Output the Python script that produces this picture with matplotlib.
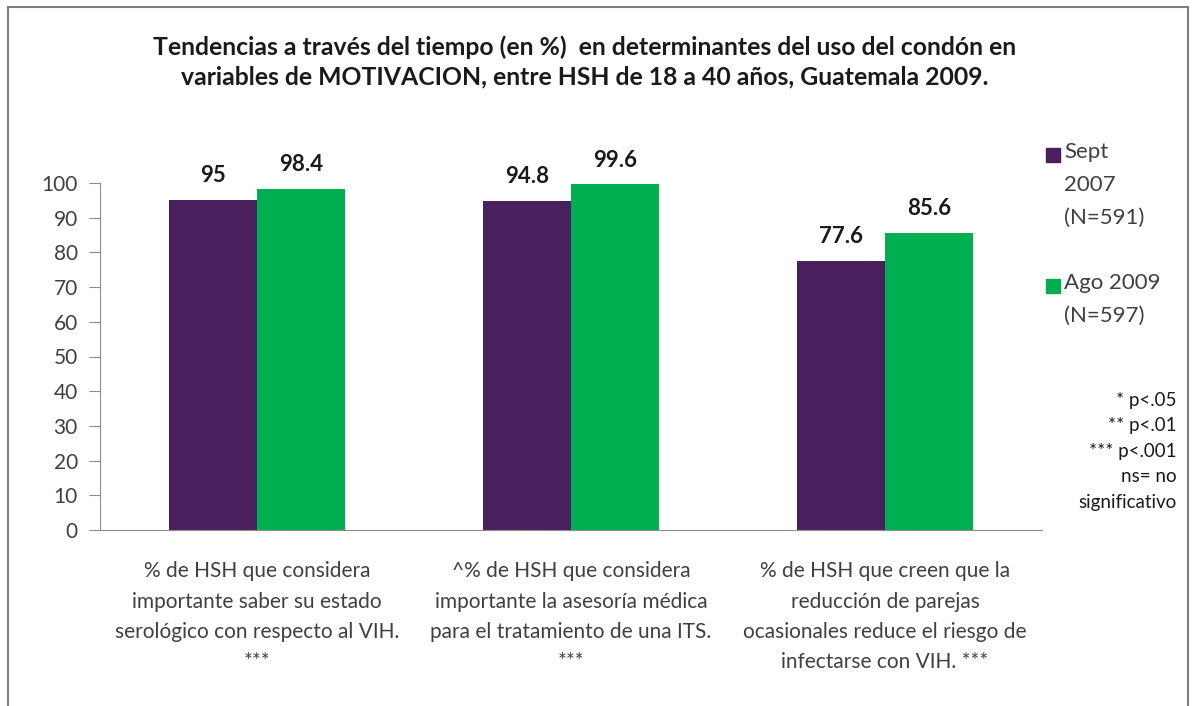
import matplotlib.pyplot as plt
import matplotlib.patches as mpatches
import numpy as np

plt.rcParams['font.family'] = ['Lato', 'DejaVu Sans']

# Datos
categorias = ["% de HSH que considera\nimportante saber su estado\nserológico con respecto al VIH.\n***",
              "^% de HSH que considera\nimportante la asesoría médica\npara el tratamiento de una ITS.\n***",
              "% de HSH que creen que la\nreducción de parejas\nocasionales reduce el riesgo de\ninfectarse con VIH. ***"]
sept_2007 = [95, 94.8, 77.6]
ago_2009 = [98.4, 99.6, 85.6]
series = ["Sept\n2007\n(N=591)", "Ago 2009\n(N=597)"]
notas = ["* p<.05", "** p<.01", "*** p<.001", "ns= no", "significativo"]

morado = '#4a1f5e'
verde = '#00b050'
gris_txt = '#404040'

fig = plt.figure(figsize=(11.95, 7.06), dpi=100)
ax = fig.add_axes([100/1195, 1 - 530/706, 942/1195, 347/706])

x = np.arange(len(categorias))
w = 0.28
b1 = ax.bar(x - w/2, sept_2007, w, color=morado)
b2 = ax.bar(x + w/2, ago_2009, w, color=verde)

for bars, vals in [(b1, sept_2007), (b2, ago_2009)]:
    for b, v in zip(bars, vals):
        ax.text(b.get_x() + b.get_width()/2, v + 4, f"{v:g}", ha='center', va='bottom',
                fontsize=16, fontweight='bold', color='#1a1a1a')

ax.set_xlim(-0.5, 2.5)
ax.set_ylim(0, 100)
ax.set_yticks(range(0, 101, 10))
ax.tick_params(axis='y', direction='out', length=8, color='#8c8c8c', labelsize=15,
               labelcolor=gris_txt, pad=8)
ax.set_xticks([])
for s in ['top', 'right']:
    ax.spines[s].set_visible(False)
ax.spines['left'].set_color('#8c8c8c')
ax.spines['bottom'].set_color('#8c8c8c')

for xi, cat in zip(x, categorias):
    ax.text(xi, -9, cat, ha='center', va='top', fontsize=15, color=gris_txt,
            linespacing=1.65, transform=ax.transData)

fig.text(585/1195, 1 - 62/706,
         "Tendencias a través del tiempo (en %)  en determinantes del uso del condón en\n"
         "variables de MOTIVACION, entre HSH de 18 a 40 años, Guatemala 2009.",
         ha='center', va='center', fontsize=17.8, fontweight='bold', color='#1a1a1a',
         linespacing=1.3)

# Leyenda
fig.patches.append(mpatches.Rectangle((1046/1195, 1 - 162/706), 14/1195, 14/706,
                                      color=morado, transform=fig.transFigure))
fig.text(1064/1195, 1 - 142/706, series[0], ha='left', va='top', fontsize=16,
         color=gris_txt, linespacing=1.8)
fig.patches.append(mpatches.Rectangle((1046/1195, 1 - 293/706), 14/1195, 14/706,
                                      color=verde, transform=fig.transFigure))
fig.text(1064/1195, 1 - 273/706, series[1], ha='left', va='top', fontsize=16,
         color=gris_txt, linespacing=1.8)

fig.text(1177/1195, 1 - 392/706, "\n".join(notas), ha='right', va='top', fontsize=13.5,
         color='#1a1a1a', linespacing=1.6)

# Marco
fig.patches.append(mpatches.Rectangle((8/1195, -0.05), 1180/1195, 1 - 7/706 + 0.05,
                                      fill=False, edgecolor='#7f7f7f', linewidth=1.5,
                                      transform=fig.transFigure))

fig.savefig('out.png', dpi=100)
